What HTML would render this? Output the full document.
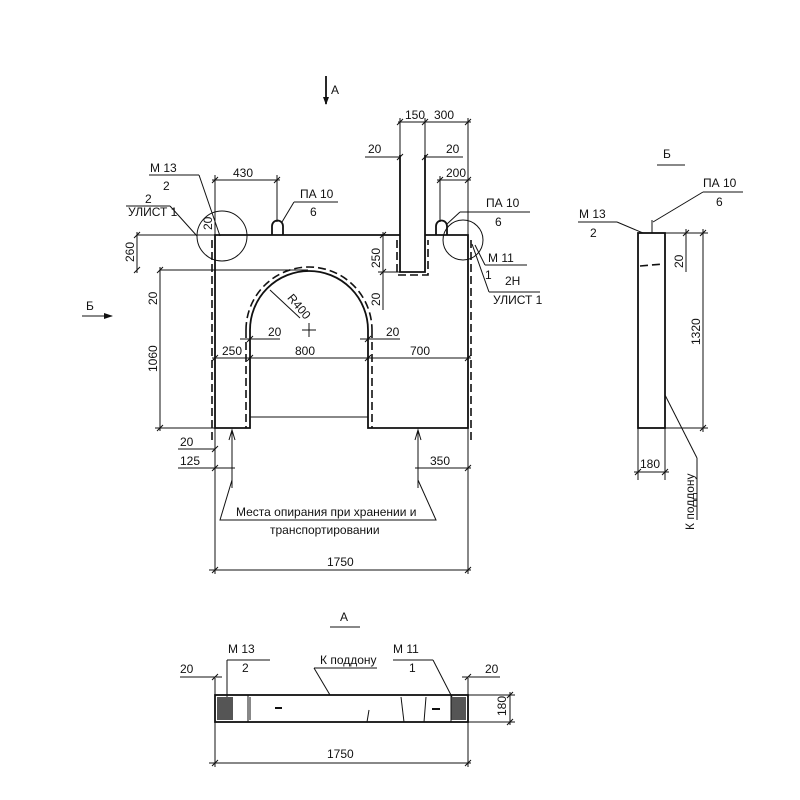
<!DOCTYPE html>
<html><head><meta charset="utf-8"><style>
html,body{margin:0;padding:0;background:#fff;}
svg{display:block;}
text{font-family:"Liberation Sans","DejaVu Sans",sans-serif;fill:#111;font-size:12px;}
.l{stroke:#111;stroke-width:1;fill:none;}
.t{stroke:#111;stroke-width:1.8;fill:none;}
.d{stroke:#111;stroke-width:1.6;fill:none;stroke-dasharray:8 4;}
</style></head><body>
<svg width="800" height="800" viewBox="0 0 800 800" xmlns="http://www.w3.org/2000/svg">
<line class="t" x1="326" y1="76" x2="326" y2="104"/><path d="M323,97 L326,105 L329,97Z" fill="#111"/>
<text x="331" y="94" font-size="13">А</text>
<text x="86" y="310" font-size="13">Б</text>
<line class="l" x1="82" y1="316" x2="112" y2="316"/><path d="M104,313 L113,316 L104,319Z" fill="#111"/>

<path class="t" d="M425,235 L468,235 L468,428 L368,428 L368,330 A59,59 0 0 0 250,330 L250,428 L215,428 L215,235 L400,235"/>
<line class="l" x1="250" y1="417" x2="368" y2="417"/>
<path class="t" d="M400,155 L400,272 L425,272 L425,155"/>
<line class="d" x1="212" y1="240" x2="212" y2="440"/>
<line class="d" x1="471" y1="240" x2="471" y2="440"/>
<path class="d" d="M246,330 A63,63 0 0 1 372,330"/>
<line class="d" x1="246" y1="330" x2="246" y2="428"/>
<line class="d" x1="372" y1="330" x2="372" y2="428"/>
<path class="d" d="M397,240 L397,275 L428,275 L428,240"/>
<line class="l" x1="160" y1="270" x2="308" y2="270"/>
<line class="l" x1="302" y1="330" x2="316" y2="330"/><line class="l" x1="309" y1="323" x2="309" y2="337"/>
<line class="l" x1="270" y1="290" x2="300" y2="318"/>
<text x="285" y="302" font-size="9" transform="rotate(50 290 302)">R400</text>
<path class="t" d="M272,235 L272,226 A5.5,5.5 0 0 1 283,226 L283,235"/>
<path class="t" d="M436,235 L436,226 A5.5,5.5 0 0 1 447,226 L447,235"/>
<circle class="l" cx="222" cy="236" r="25"/>
<circle class="l" cx="463" cy="240" r="20"/>
<line class="l" x1="137" y1="235" x2="215" y2="235"/>
<line class="l" x1="215" y1="175" x2="215" y2="235"/>
<line class="l" x1="277" y1="175" x2="277" y2="222"/>
<line class="l" x1="468" y1="118" x2="468" y2="235"/>
<line class="l" x1="440" y1="176" x2="440" y2="222"/>
<line class="l" x1="400" y1="118" x2="400" y2="155"/><line class="l" x1="425" y1="118" x2="425" y2="155"/>
<line class="l" x1="378" y1="272" x2="400" y2="272"/>
<g class="l">
<line x1="212" y1="180" x2="280" y2="180"/>
<line x1="398" y1="122" x2="471" y2="122"/>
<line x1="365" y1="157" x2="400" y2="157"/><line x1="425" y1="157" x2="463" y2="157"/>
<line x1="437" y1="180" x2="471" y2="180"/>
<line x1="137" y1="232" x2="137" y2="273"/>
<line x1="160" y1="267" x2="160" y2="431"/>
<line x1="383" y1="232" x2="383" y2="310"/>
<line x1="212" y1="358" x2="471" y2="358"/>
<line x1="240" y1="339" x2="280" y2="339"/><line x1="360" y1="339" x2="400" y2="339"/>
<line x1="155" y1="428" x2="250" y2="428"/>
<line x1="178" y1="449" x2="215" y2="449"/>
<line x1="178" y1="468" x2="235" y2="468"/><line x1="415" y1="468" x2="471" y2="468"/>
<line x1="209" y1="570" x2="471" y2="570"/>
<line x1="215" y1="428" x2="215" y2="574"/><line x1="468" y1="428" x2="468" y2="574"/>
</g>
<g class="l" stroke-width="1.3">
<path d="M212,183 l6,-6 M274,183 l6,-6 M397,125 l6,-6 M422,125 l6,-6 M465,125 l6,-6 M397,160 l6,-6 M422,160 l6,-6 M437,183 l6,-6 M465,183 l6,-6 M134,238 l6,-6 M134,273 l6,-6 M157,273 l6,-6 M157,431 l6,-6 M380,238 l6,-6 M380,275 l6,-6 M212,361 l6,-6 M247,361 l6,-6 M365,361 l6,-6 M465,361 l6,-6 M247,342 l6,-6 M365,342 l6,-6 M212,452 l6,-6 M212,471 l6,-6 M465,471 l6,-6 M212,573 l6,-6 M465,573 l6,-6"/>
</g>
<text x="233" y="177">430</text>
<text x="405" y="119">150</text><text x="434" y="119">300</text>
<text x="368" y="153">20</text><text x="446" y="153">20</text>
<text x="446" y="177">200</text>
<text x="0" y="0" transform="translate(134 262) rotate(-90)">260</text>
<text x="0" y="0" transform="translate(157 305) rotate(-90)">20</text>
<text x="0" y="0" transform="translate(157 372) rotate(-90)">1060</text>
<text x="0" y="0" transform="translate(380 268) rotate(-90)">250</text>
<text x="0" y="0" transform="translate(380 306) rotate(-90)">20</text>
<text x="0" y="0" transform="translate(212 230) rotate(-90)">20</text>
<text x="222" y="355">250</text><text x="295" y="355">800</text><text x="410" y="355">700</text>
<text x="268" y="336">20</text><text x="386" y="336">20</text>
<text x="180" y="446">20</text><text x="180" y="465">125</text><text x="430" y="465">350</text>
<text x="327" y="566">1750</text>
<g class="l">
<line x1="149" y1="175" x2="199" y2="175"/><line x1="199" y1="175" x2="220" y2="236"/>
<line x1="126" y1="206" x2="170" y2="206"/><line x1="170" y1="206" x2="197" y2="236"/>
<line x1="294" y1="202" x2="338" y2="202"/><line x1="294" y1="202" x2="282" y2="222"/>
<line x1="460" y1="212" x2="530" y2="212"/><line x1="460" y1="212" x2="447" y2="224"/>
<line x1="485" y1="265" x2="527" y2="265"/><line x1="475" y1="245" x2="485" y2="265"/>
<line x1="489" y1="292" x2="540" y2="292"/><line x1="472" y1="244" x2="489" y2="292"/>
</g>
<text x="150" y="172" font-size="13">М 13</text><text x="163" y="190" font-size="13">2</text>
<text x="145" y="203" font-size="13">2</text><text x="128" y="216" font-size="10">УЛИСТ 1</text>
<text x="300" y="198" font-size="13">ПА 10</text><text x="310" y="216" font-size="13">6</text>
<text x="486" y="207" font-size="13">ПА 10</text><text x="495" y="226" font-size="13">6</text>
<text x="488" y="262" font-size="13">М 11</text><text x="485" y="279" font-size="12">1</text><text x="505" y="285" font-size="11">2Н</text>
<text x="493" y="304" font-size="10">УЛИСТ 1</text>
<line class="l" x1="232" y1="432" x2="232" y2="488"/><path d="M229,440 L232,430 L235,440" class="l"/>
<line class="l" x1="418" y1="432" x2="418" y2="488"/><path d="M415,440 L418,430 L421,440" class="l"/>
<path class="l" d="M232,480 L220,520 L436,520 L418,480"/>
<text x="236" y="516">Места опирания при хранении и</text>
<text x="270" y="534">транспортировании</text>

<text x="340" y="621" font-size="13">А</text><line class="l" x1="330" y1="627" x2="360" y2="627"/>
<rect class="t" x="215" y="695" width="253" height="27"/>
<rect x="217" y="697" width="16" height="23" fill="#555"/>
<rect x="451" y="697" width="15" height="23" fill="#555"/>
<g class="l" stroke-width="1.5">
<line x1="248" y1="695" x2="248" y2="722"/><line x1="250" y1="697" x2="250" y2="720"/>
<line x1="275" y1="708" x2="282" y2="708" stroke-width="2"/>
<line x1="369" y1="710" x2="367" y2="722"/>
<line x1="401" y1="697" x2="404" y2="722"/><line x1="426" y1="697" x2="424" y2="722"/>
<line x1="432" y1="709" x2="440" y2="709" stroke-width="2"/>
<line x1="451" y1="695" x2="451" y2="722"/>
</g>
<g class="l">
<line x1="215" y1="678" x2="215" y2="767"/><line x1="468" y1="678" x2="468" y2="767"/>
<line x1="180" y1="677" x2="222" y2="677"/><line x1="462" y1="677" x2="500" y2="677"/>
<line x1="209" y1="763" x2="471" y2="763"/>
<line x1="468" y1="695" x2="515" y2="695"/><line x1="468" y1="722" x2="515" y2="722"/>
<line x1="510" y1="692" x2="510" y2="725"/>
<line x1="227" y1="660" x2="270" y2="660"/><line x1="227" y1="660" x2="227" y2="697"/>
<line x1="393" y1="660" x2="433" y2="660"/><line x1="433" y1="660" x2="452" y2="697"/>
<line x1="314" y1="668" x2="377" y2="668"/><line x1="314" y1="668" x2="330" y2="695"/>
<path d="M212,766 l6,-6 M465,766 l6,-6 M507,698 l6,-6 M507,725 l6,-6 M212,680 l6,-6 M465,680 l6,-6"/>
</g>
<text x="180" y="673">20</text><text x="485" y="673">20</text>
<text x="228" y="653" font-size="13">М 13</text><text x="242" y="672" font-size="13">2</text>
<text x="393" y="653" font-size="13">М 11</text><text x="409" y="672" font-size="13">1</text>
<text x="320" y="664">К поддону</text>
<text x="327" y="758">1750</text>
<text x="0" y="0" transform="translate(506 716) rotate(-90)">180</text>

<text x="663" y="158" font-size="13">Б</text><line class="l" x1="657" y1="165" x2="685" y2="165"/>
<rect class="t" x="638" y="233" width="27" height="195"/>
<line class="d" x1="640" y1="266" x2="663" y2="264"/>
<line class="l" x1="652" y1="220" x2="652" y2="233" stroke-width="1.5"/>
<g class="l">
<line x1="578" y1="222" x2="617" y2="222"/><line x1="617" y1="222" x2="643" y2="233"/>
<line x1="703" y1="192" x2="743" y2="192"/><line x1="703" y1="192" x2="653" y2="222"/>
<line x1="665" y1="233" x2="708" y2="233"/><line x1="665" y1="428" x2="708" y2="428"/>
<line x1="703" y1="229" x2="703" y2="432"/><line x1="686" y1="229" x2="686" y2="272"/>
<line x1="638" y1="428" x2="638" y2="480"/><line x1="665" y1="428" x2="665" y2="480"/>
<line x1="634" y1="472" x2="669" y2="472"/>
<line x1="665" y1="395" x2="697" y2="458"/><line x1="697" y1="458" x2="697" y2="520"/>
<path d="M683,236 l6,-6 M700,236 l6,-6 M700,431 l6,-6 M635,475 l6,-6 M662,475 l6,-6"/>
</g>
<text x="579" y="218" font-size="13">М 13</text><text x="590" y="237" font-size="13">2</text>
<text x="703" y="187" font-size="13">ПА 10</text><text x="716" y="206" font-size="13">6</text>
<text x="0" y="0" transform="translate(683 268) rotate(-90)">20</text>
<text x="0" y="0" transform="translate(700 345) rotate(-90)">1320</text>
<text x="640" y="468">180</text>
<text x="0" y="0" transform="translate(694 530) rotate(-90)">К поддону</text>
</svg>
</body></html>
